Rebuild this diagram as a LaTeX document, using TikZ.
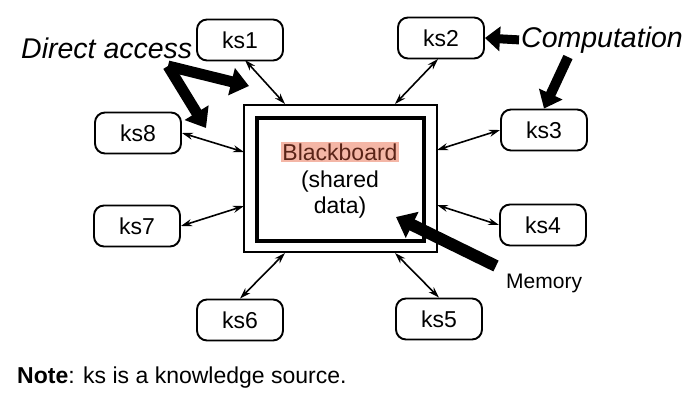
\documentclass[tikz,border=0pt]{standalone}
\usepackage{fontspec}
\setmainfont{Liberation Sans}
\usetikzlibrary{arrows.meta,calc}
\definecolor{hl}{HTML}{F4B6A6}
\definecolor{hltext}{HTML}{5A2418}
\tikzset{
  ksbox/.style={draw, line width=1.9pt, rounded corners=10pt, minimum width=86pt, minimum height=41pt, inner sep=0pt, font=\fontsize{23}{27}\selectfont},
  link/.style={line width=1.6pt, {Stealth[length=11pt,width=7pt]}-{Stealth[length=11pt,width=7pt]}},
  bigarrow/.style={line width=11pt, -{Triangle[length=18pt,width=27pt]}},
  callout/.style={font=\fontsize{28.5}{33}\selectfont\itshape, inner sep=0pt},
  bbtext/.style={font=\fontsize{23}{27}\selectfont, inner sep=0pt}
}
\begin{document}
\begin{tikzpicture}[x=1pt,y=-1pt]
\path[use as bounding box, fill=white] (0,0) rectangle (691,407);
% blackboard
\node[draw, line width=2.6pt, minimum width=193pt, minimum height=147pt, inner sep=0pt] (board) at (340.5,178.5) {};
\node[draw, line width=3.2pt, minimum width=167pt, minimum height=123pt, inner sep=0pt] (inner) at (340.5,179.5) {};
\node[bbtext, fill=hl, text=hltext, inner sep=1.5pt] (bb) at (340,152) {Blackboard};
\node[bbtext] (sh) at (340,182) {(shared};
\node[bbtext] (dt) at (340,208) {data)};
% knowledge sources
\node[ksbox] (ks1) at (240,40) {ks1};
\node[ksbox] (ks2) at (441,38) {ks2};
\node[ksbox] (ks3) at (544,130) {ks3};
\node[ksbox] (ks4) at (543,225) {ks4};
\node[ksbox] (ks5) at (439,319) {ks5};
\node[ksbox] (ks6) at (240,320) {ks6};
\node[ksbox] (ks7) at (137,226) {ks7};
\node[ksbox] (ks8) at (138,133) {ks8};
% board contact points
\coordinate (b1) at (285,104);
\coordinate (b2) at (395,104);
\coordinate (b3) at (437,150);
\coordinate (b4) at (437,205);
\coordinate (b5) at (395,253);
\coordinate (b6) at (285,253);
\coordinate (b7) at (244,206);
\coordinate (b8) at (244,152);
\coordinate (k1) at (245,60);
\coordinate (k2) at (438,59);
\draw[link] (k1) -- (b1);
\draw[link] (k2) -- (b2);
\draw[link] (ks3.west) -- (b3);
\draw[link] (ks4.west) -- (b4);
\draw[link] (ks5.north) -- (b5);
\draw[link] (ks6.north) -- (b6);
\draw[link] (ks7.east) -- (b7);
\draw[link] (ks8.east) -- (b8);
% callouts
\node[callout, anchor=west] (da) at (21,48) {Direct access};
\node[callout, anchor=west] (comp) at (521,40) {Computation};
\node[font=\fontsize{21}{25}\selectfont, inner sep=0pt, anchor=west] (mem) at (506,283) {Memory};
\coordinate (dav) at (168,66);
\coordinate (dat1) at (249,86);
\coordinate (dat2) at (206,128);
\draw[bigarrow] (dav) -- (dat1);
\draw[bigarrow] (dav) -- (dat2);
\draw[line width=9pt, -{Triangle[length=15pt,width=24pt]}, shorten <=2pt] (comp.west) -- (ks2.east);
\coordinate (ct) at (568,57);
\draw[line width=10pt, -{Triangle[length=16pt,width=25pt]}] (ct) -- (ks3.north);
\coordinate (mt) at (496,266);
\coordinate (mh) at (396,217);
\draw[line width=12pt, -{Triangle[length=18pt,width=28pt]}] (mt) -- (mh);
% note
\node[font=\fontsize{23}{27}\selectfont, inner sep=0pt, anchor=west] (note) at (17,378) {\textbf{Note}: ks is a knowledge source.};
\end{tikzpicture}
\end{document}
